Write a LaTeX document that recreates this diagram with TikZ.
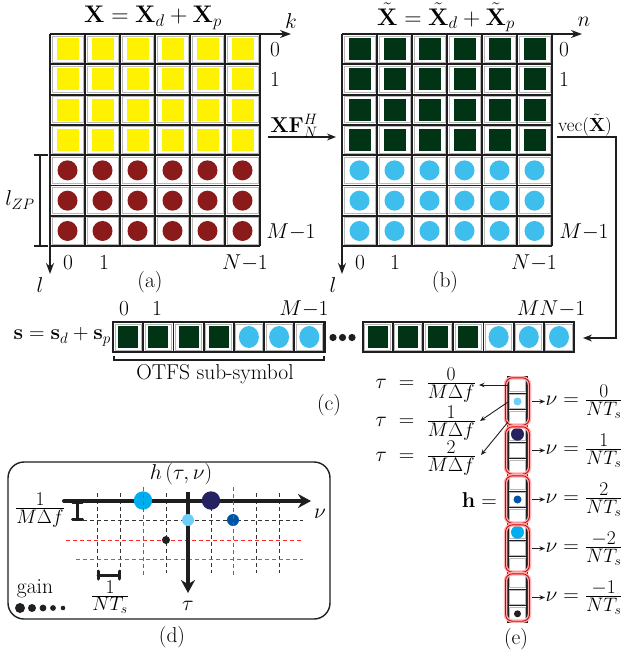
\RequirePackage{fix-cm}
\documentclass[tikz,border=0pt]{standalone}
\usepackage{amsmath}
\usetikzlibrary{arrows.meta}
\definecolor{yel}{RGB}{255,242,0}
\definecolor{dredc}{RGB}{139,27,27}
\definecolor{dgreen}{RGB}{0,52,20}
\definecolor{lblue}{RGB}{62,190,236}
\definecolor{cyanb}{RGB}{0,174,239}
\definecolor{skyb}{RGB}{109,207,246}
\definecolor{navyb}{RGB}{38,34,98}
\definecolor{medb}{RGB}{0,84,166}
\definecolor{blk}{RGB}{35,31,32}
\definecolor{gridc}{RGB}{30,30,30}
\newcommand{\ffr}[2]{\frac{\mbox{\fontsize{19.5}{19.5}\selectfont$#1$}}{\mbox{\fontsize{19.5}{19.5}\selectfont$#2$}}}
\begin{document}
\begin{tikzpicture}[x=1pt,y=-1pt,
  lbl/.style={font=\fontsize{21.5}{24}\selectfont, inner sep=0pt},
  ttl/.style={font=\fontsize{24}{27}\selectfont, inner sep=0pt},
  gline/.style={draw=gridc, line width=1.8pt},
  cellring/.style={draw=black!28, line width=1pt, fill=white},
  axis/.style={draw=gridc, line width=1.4pt, -{Stealth[length=11pt,width=8pt]}},
  conn/.style={draw=gridc, line width=1.2pt, -{Stealth[length=9pt,width=7pt]}},
  thinarr/.style={draw=gridc, line width=0.9pt, -{Stealth[length=5.5pt,width=4.5pt]}},
  dashblk/.style={draw=black!80, line width=0.8pt, dash pattern=on 4pt off 3pt},
  dashgry/.style={draw=black!55, line width=0.8pt, dash pattern=on 4pt off 3pt},
  dashred/.style={draw=red!85, line width=0.8pt, dash pattern=on 4pt off 3pt},
  beam/.style={draw=gridc, line width=3pt, line cap=round},
  redgrp/.style={draw=red!85!black, line width=0.9pt, rounded corners=7pt},
  pinkgrp/.style={draw=red!30, line width=3.5pt, rounded corners=7pt}
]
\useasboundingbox (0,0) rectangle (621,654);

% ================= grid (a) =================
\foreach \c in {0,...,5}{
  \foreach \r in {0,...,6}{
    \pgfmathsetmacro\xx{50+35*\c}
    \pgfmathsetmacro\yy{34+30.3*\r}
    \draw[cellring] (\xx+2,\yy+2) rectangle (\xx+33,\yy+28.3);
    \ifnum\r<4
      \fill[yel] (\xx+6.5,\yy+4.15) rectangle ++(22,22);
    \else
      \fill[dredc] (\xx+17.5,\yy+15.15) circle (10pt);
    \fi
  }
}
\foreach \c in {1,...,6}{\draw[gline] (50+35*\c,34) -- (50+35*\c,246.1);}
\foreach \r in {1,...,7}{\draw[gline] (50,34+30.3*\r) -- (260,34+30.3*\r);}
\draw[axis] (50,34) -- (291,34);
\draw[axis] (50,34) -- (50,274);
\node[ttl] (ta) at (153,18) {$\mathbf{X}=\mathbf{X}_d+\mathbf{X}_p$};
\node[lbl] (ka) at (291,21) {$k$};
\node[lbl] (a0) at (275,50) {$0$};
\node[lbl] (a1) at (275,80) {$1$};
\node[lbl] (aM) at (291,232) {$M{-}1$};
\node[lbl] (b0a) at (68,263) {$0$};
\node[lbl] (b1a) at (104,263) {$1$};
\node[lbl] (bNa) at (245,263) {$N{-}1$};
\node[lbl] (la) at (40,285) {$l$};
\node[lbl] (capa) at (150,282) {(a)};
% l_ZP bracket
\draw[gridc, line width=2.4pt] (40,155) -- (40,246);
\draw[gridc, line width=2.4pt] (33.5,155) -- (47.5,155);
\draw[gridc, line width=2.4pt] (33.5,246) -- (47.5,246);
\node[lbl] (lzp) at (20,200) {$l_{ZP}$};

% XF arrow
\coordinate (xfs) at (268,137);
\coordinate (xfe) at (336,137);
\draw[conn] (xfs) -- (xfe);
\node[lbl] (xf) at (294,126) {$\mathbf{X}\mathbf{F}_N^H$};

% ================= grid (b) =================
\foreach \c in {0,...,5}{
  \foreach \r in {0,...,6}{
    \pgfmathsetmacro\xx{342+35*\c}
    \pgfmathsetmacro\yy{34+30.3*\r}
    \draw[cellring] (\xx+2,\yy+2) rectangle (\xx+33,\yy+28.3);
    \ifnum\r<4
      \fill[dgreen] (\xx+6.5,\yy+4.15) rectangle ++(22,22);
    \else
      \fill[lblue] (\xx+17.5,\yy+15.15) circle (10pt);
    \fi
  }
}
\foreach \c in {1,...,6}{\draw[gline] (342+35*\c,34) -- (342+35*\c,246.1);}
\foreach \r in {1,...,7}{\draw[gline] (342,34+30.3*\r) -- (552,34+30.3*\r);}
\draw[axis] (342,34) -- (582,34);
\draw[axis] (342,34) -- (342,274);
\node[ttl] (tb) at (446,17.5) {$\tilde{\mathbf{X}}=\tilde{\mathbf{X}}_d+\tilde{\mathbf{X}}_p$};
\node[lbl] (nb) at (584,22) {$n$};
\node[lbl] (c0) at (564,50) {$0$};
\node[lbl] (c1) at (564,80) {$1$};
\node[lbl] (cM) at (584,232) {$M{-}1$};
\node[lbl] (d0) at (360,263) {$0$};
\node[lbl] (d1) at (395,263) {$1$};
\node[lbl] (dN) at (534,263) {$N{-}1$};
\node[lbl] (lb) at (333,285) {$l$};
\node[lbl] (capb) at (445,282) {(b)};

% vec connector
\node[font=\fontsize{19}{22}\selectfont, inner sep=0pt] (vec) at (585,125) {vec$(\tilde{\mathbf{X}})$};
\coordinate (vs) at (557,137);
\coordinate (vc1) at (616,137);
\coordinate (vc2) at (616,338);
\coordinate (ve) at (583,338);
\draw[conn] (vs) -- (vc1) -- (vc2) -- (ve);

% ================= vector (c) =================
\foreach \bx in {113,362.7}{
  \foreach \i in {0,...,6}{
    \pgfmathsetmacro\xx{\bx+30.2*\i}
    \draw[cellring] (\xx+2,324) rectangle (\xx+28.2,350);
    \ifnum\i<4
      \fill[dgreen] (\xx+5.1,326) rectangle ++(20,22);
    \else
      \fill[lblue] (\xx+15.1,337) ellipse (10pt and 11pt);
    \fi
  }
  \foreach \i in {1,...,6}{\draw[gline] (\bx+30.2*\i,322) -- (\bx+30.2*\i,352);}
  \draw[gridc, line width=2.2pt] (\bx,322) rectangle (\bx+211.4,352);
}
\node[lbl, anchor=east] (seq) at (111,337) {$\mathbf{s}=\mathbf{s}_d+\mathbf{s}_p$};
\node[lbl] (e0) at (124,309) {$0$};
\node[lbl] (e1) at (157,309) {$1$};
\node[lbl] (eM) at (304,309) {$M{-}1$};
\node[lbl] (eMN) at (551,309) {$MN{-}1$};
\foreach \dx in {333,342.5,352}{\fill[gridc] (\dx,337.5) circle (3.6pt);}
\draw[gridc, line width=1.2pt] (114,355.5) -- (114,360) -- (324,360) -- (324,355.5);
\node[lbl] (otfs) at (215,374) {OTFS sub-symbol};
\node[lbl] (capc) at (329,405) {(c)};

% ================= panel (d) =================
\draw[gridc, line width=1.4pt, rounded corners=16pt] (8,462) rectangle (330,619);
\foreach \vx in {97,120,166,211,256,279}{\draw[dashblk] (\vx,493) -- (\vx,573);}
\draw[dashblk] (76,520) -- (303,520);
\draw[dashred] (66,540) -- (303,540);
\draw[dashgry] (76,559) -- (303,559);
\draw[draw=gridc, line width=4pt, line cap=round, -{Stealth[length=13pt,width=14pt]}] (64,501) -- (311,501);
\draw[draw=gridc, line width=4pt, -{Stealth[length=13pt,width=14pt]}] (188,492) -- (188,593);
\fill[cyanb] (143,500.5) circle (9.2pt);
\fill[navyb] (211,500.5) circle (9.2pt);
\fill[skyb] (188,520) circle (6pt);
\fill[medb] (233,520) circle (6pt);
\fill[blk] (166,540) circle (4pt);
\draw[dashred] (143,487) -- (143,575);
\draw[dashred] (233,487) -- (233,575);
\draw[beam] (77.5,502) -- (77.5,519);
\draw[beam] (72.5,502) -- (82.5,502);
\draw[beam] (72.5,519) -- (82.5,519);
\draw[beam] (98,575) -- (119,575);
\draw[beam] (98,571) -- (98,579);
\draw[beam] (119,571) -- (119,579);
\node[lbl] (hlab) at (181,474) {$h\,(\tau,\nu)$};
\node[lbl] (nulab) at (320,514) {$\nu$};
\node[lbl] (taulab) at (188,606) {$\tau$};
\node[lbl] (fmd) at (40,510) {$\ffr{1}{M\Delta f}$};
\node[lbl] (fnt) at (110,597) {$\ffr{1}{NT_s}$};
\node[lbl] (gain) at (35,589) {gain};
\fill[blk] (20,608) circle (5pt);
\fill[blk] (32,608) circle (4pt);
\fill[blk] (43,608) circle (3.4pt);
\fill[blk] (53,608) circle (2.9pt);
\fill[blk] (63,608) circle (2.3pt);
\node[lbl] (capd) at (172,637) {(d)};

% ================= column (e) =================
\foreach \k in {0,...,14}{
  \pgfmathsetmacro\yy{377+16.333*\k}
  \draw[cellring] (509.5,\yy+1.5) rectangle (525.5,\yy+14.8);
}
\foreach \k in {1,...,14}{\draw[gridc, line width=1.5pt] (508,377+16.333*\k) -- (527,377+16.333*\k);}
\draw[gridc, line width=1.8pt] (508,377) rectangle (527,622);
\fill[skyb] (517.5,401.5) circle (4pt);
\fill[navyb] (517.5,434.2) circle (6.5pt);
\fill[medb] (517.5,499.5) circle (4pt);
\fill[cyanb] (517.5,532.2) circle (6.5pt);
\fill[blk] (517.5,613.8) circle (3.5pt);
\foreach \g in {0,...,4}{
  \draw[pinkgrp] (505.5,377.8+49*\g) rectangle (529.5,425.2+49*\g);
  \draw[redgrp] (505.5,377.8+49*\g) rectangle (529.5,425.2+49*\g);
}
\node[lbl, anchor=east] (t0) at (476,385) {$\tau\;=\;\ffr{0}{M\Delta f}$};
\node[lbl, anchor=east] (t1) at (476,423) {$\tau\;=\;\ffr{1}{M\Delta f}$};
\node[lbl, anchor=east] (t2) at (476,458) {$\tau\;=\;\ffr{2}{M\Delta f}$};
\coordinate (ts0) at (508,385);
\coordinate (ts1) at (508,402);
\coordinate (ts2) at (508,422);
\coordinate (te0) at (479,385);
\coordinate (te1) at (480,421);
\coordinate (te2) at (481,455);
\draw[thinarr] (ts0) -- (te0);
\draw[thinarr] (ts1) -- (te1);
\draw[thinarr] (ts2) -- (te2);
\node[lbl, anchor=east] (heq) at (497,500) {$\mathbf{h}=$};
\foreach \g/\num in {0/0,1/1,2/2,3/-2,4/-1}{
  \pgfmathsetmacro\yc{401.5+49*\g}
  \coordinate (ns\g) at (532,\yc);
  \coordinate (ne\g) at (545,\yc);
  \draw[thinarr] (ns\g) -- (ne\g);
  \node[lbl, anchor=west] (nl\g) at (545.5,\yc) {$\nu = \ffr{\num}{NT_s}$};
}
\node[lbl] (cape) at (516,639) {(e)};
\end{tikzpicture}
\end{document}
